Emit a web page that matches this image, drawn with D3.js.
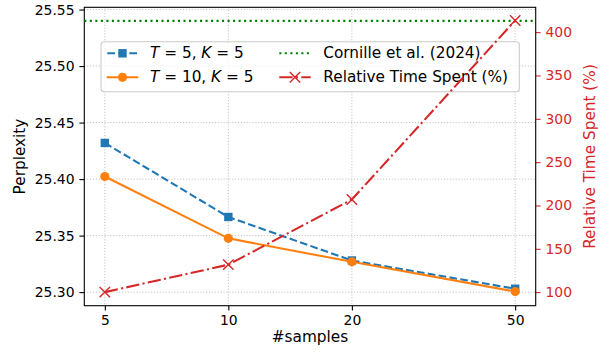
<!DOCTYPE html>
<html><head><meta charset="utf-8">
<script src="https://cdn.jsdelivr.net/npm/d3@7"></script>
<style>body{margin:0;background:#fff}svg{display:block;font-family:"DejaVu Sans",sans-serif}</style>
</head><body><svg id="c" width="602" height="354"></svg>
<script>
const samples = [5, 10, 20, 50];
const pplT5K5 = [25.432, 25.3665, 25.328, 25.303];
const pplT10K5 = [25.4023, 25.3476, 25.3268, 25.3005];
const cornille = 25.54;
const timeSpent = [100, 131.7, 206.9, 413.4];
const leftTicks = [25.30, 25.35, 25.40, 25.45, 25.50, 25.55];
const rightTicks = [100, 150, 200, 250, 300, 350, 400];

const W = 602, H = 354;
const m = {l: 84.3, r: 535.7, t: 7.3, b: 305.7};
const svg = d3.select("#c");
const fs = 13.9, fl = 15.3;
const red = "#d62728", blue = "#1f77b4", orange = "#ff7f0e", green = "#008000";

const x = d3.scaleLog().domain([5 / Math.pow(10, 0.05), 50 * Math.pow(10, 0.05)]).range([m.l, m.r]);
const y = d3.scaleLinear().domain([25.288, 25.552]).range([m.b, m.t]);
const y2 = d3.scaleLinear().domain([84.35, 428.65]).range([m.b, m.t]);

// grid
const g = svg.append("g");
g.selectAll(".gx").data(samples).join("line")
  .attr("x1", d => x(d)).attr("x2", d => x(d)).attr("y1", m.t).attr("y2", m.b)
  .attr("stroke", "#b0b0b0").attr("stroke-width", 0.8).attr("stroke-dasharray", "1.1,1.8");
g.selectAll(".gy").data(leftTicks).join("line")
  .attr("x1", m.l).attr("x2", m.r).attr("y1", d => y(d)).attr("y2", d => y(d))
  .attr("stroke", "#b0b0b0").attr("stroke-width", 0.8).attr("stroke-dasharray", "1.1,1.8");

// axes
const ax = svg.append("g").attr("transform", `translate(0,${m.b})`)
  .call(d3.axisBottom(x).tickValues(samples).tickFormat(d3.format("d")).tickSizeOuter(0).tickSize(4.9).tickPadding(4.9));
const ay = svg.append("g").attr("transform", `translate(${m.l},0)`)
  .call(d3.axisLeft(y).tickValues(leftTicks).tickFormat(d3.format(".2f")).tickSizeOuter(0).tickSize(4.9).tickPadding(4.9));
const ay2 = svg.append("g").attr("transform", `translate(${m.r},0)`)
  .call(d3.axisRight(y2).tickValues(rightTicks).tickFormat(d3.format("d")).tickSizeOuter(0).tickSize(4.9).tickPadding(4.9));
[ax, ay, ay2].forEach(a => { a.select(".domain").remove(); a.selectAll("text").attr("font-size", fs).attr("font-family", "DejaVu Sans").attr("fill", "#000"); a.selectAll("line").attr("stroke", "#000").attr("stroke-width", 1.1); });
ay2.selectAll("text").attr("fill", red);
ay2.selectAll("line").attr("stroke", red);

// frame
svg.append("rect").attr("x", m.l).attr("y", m.t).attr("width", m.r - m.l).attr("height", m.b - m.t)
  .attr("fill", "none").attr("stroke", "#000").attr("stroke-width", 1.1);

// axis labels
svg.append("text").attr("x", (m.l + m.r) / 2).attr("y", 342).attr("text-anchor", "middle").attr("font-size", fl).text("#samples");
svg.append("text").attr("transform", `translate(24.5,${(m.t + m.b) / 2}) rotate(-90)`).attr("text-anchor", "middle").attr("font-size", fl).text("Perplexity");
svg.append("text").attr("transform", `translate(595,${(m.t + m.b) / 2}) rotate(-90)`).attr("text-anchor", "middle").attr("font-size", fl).attr("fill", red).text("Relative Time Spent (%)");

const lw = 2.08;
const line = d3.line().x((d, i) => x(samples[i])).y(d => y(d));
const line2 = d3.line().x((d, i) => x(samples[i])).y(d => y2(d));

// Cornille
svg.append("line").attr("x1", m.l).attr("x2", m.r).attr("y1", y(cornille)).attr("y2", y(cornille))
  .attr("stroke", green).attr("stroke-width", lw).attr("stroke-dasharray", "2.08,3.43");

// blue
svg.append("path").datum(pplT5K5).attr("d", line).attr("fill", "none").attr("stroke", blue).attr("stroke-width", lw).attr("stroke-dasharray", "7.7,3.3");
svg.selectAll(".sq").data(pplT5K5).join("rect")
  .attr("x", (d, i) => x(samples[i]) - 4.2).attr("y", d => y(d) - 4.2).attr("width", 8.4).attr("height", 8.4).attr("fill", blue);
// orange
svg.append("path").datum(pplT10K5).attr("d", line).attr("fill", "none").attr("stroke", orange).attr("stroke-width", lw);
svg.selectAll(".ci").data(pplT10K5).join("circle")
  .attr("cx", (d, i) => x(samples[i])).attr("cy", d => y(d)).attr("r", 4.6).attr("fill", orange);

// legend
const lg = svg.append("g");
lg.append("rect").attr("x", 101).attr("y", 41.7).attr("width", 418.3).attr("height", 50).attr("rx", 3)
  .attr("fill", "#fff").attr("fill-opacity", 0.8).attr("stroke", "#cccccc").attr("stroke-width", 1.1);
const r1 = 53.3, r2 = 77.3;
lg.append("line").attr("x1", 106.7).attr("x2", 138.3).attr("y1", r1).attr("y2", r1).attr("stroke", blue).attr("stroke-width", lw).attr("stroke-dasharray", "7.7,3.3").attr("stroke-dashoffset", -0.6);
lg.append("rect").attr("x", 122.5 - 4.2).attr("y", r1 - 4.2).attr("width", 8.4).attr("height", 8.4).attr("fill", blue);
function mathLabel(xx, yy, parts) {
  const t = lg.append("text").attr("x", xx).attr("y", yy).attr("dominant-baseline", "central").attr("font-size", fl);
  parts.forEach(p => t.append("tspan").attr("font-style", p[1] ? "italic" : "normal").text(p[0]));
}
mathLabel(150, r1, [["T", 1], [" = 5, ", 0], ["K", 1], [" = 5", 0]]);
lg.append("line").attr("x1", 106.7).attr("x2", 138.3).attr("y1", r2).attr("y2", r2).attr("stroke", orange).attr("stroke-width", lw);
lg.append("circle").attr("cx", 122.5).attr("cy", r2).attr("r", 4.6).attr("fill", orange);
mathLabel(150, r2, [["T", 1], [" = 10, ", 0], ["K", 1], [" = 5", 0]]);
lg.append("line").attr("x1", 279.3).attr("x2", 310.7).attr("y1", r1).attr("y2", r1).attr("stroke", green).attr("stroke-width", lw).attr("stroke-dasharray", "2.08,3.43");
lg.append("text").attr("x", 323.3).attr("y", r1).attr("dominant-baseline", "central").attr("font-size", fl).text("Cornille et al. (2024)");
lg.append("line").attr("x1", 279.3).attr("x2", 310.7).attr("y1", r2).attr("y2", r2).attr("stroke", red).attr("stroke-width", lw).attr("stroke-dasharray", "13.3,3.3,2.1,3.3");
const xm = (cx, cy, s) => `M${cx - s},${cy - s}L${cx + s},${cy + s}M${cx - s},${cy + s}L${cx + s},${cy - s}`;
lg.append("path").attr("d", xm(295, r2, 5.2)).attr("stroke", red).attr("stroke-width", 1.4).attr("fill", "none");
lg.append("text").attr("x", 323.3).attr("y", r2).attr("dominant-baseline", "central").attr("font-size", fl).text("Relative Time Spent (%)");

// red (twin axis, above legend)
svg.append("path").datum(timeSpent).attr("d", line2).attr("fill", "none").attr("stroke", red).attr("stroke-width", lw).attr("stroke-dasharray", "13.3,3.3,2.1,3.3");
svg.selectAll(".xm").data(timeSpent).join("path")
  .attr("d", (d, i) => xm(x(samples[i]), y2(d), 5.2)).attr("stroke", red).attr("stroke-width", 1.4).attr("fill", "none");
</script></body></html>
